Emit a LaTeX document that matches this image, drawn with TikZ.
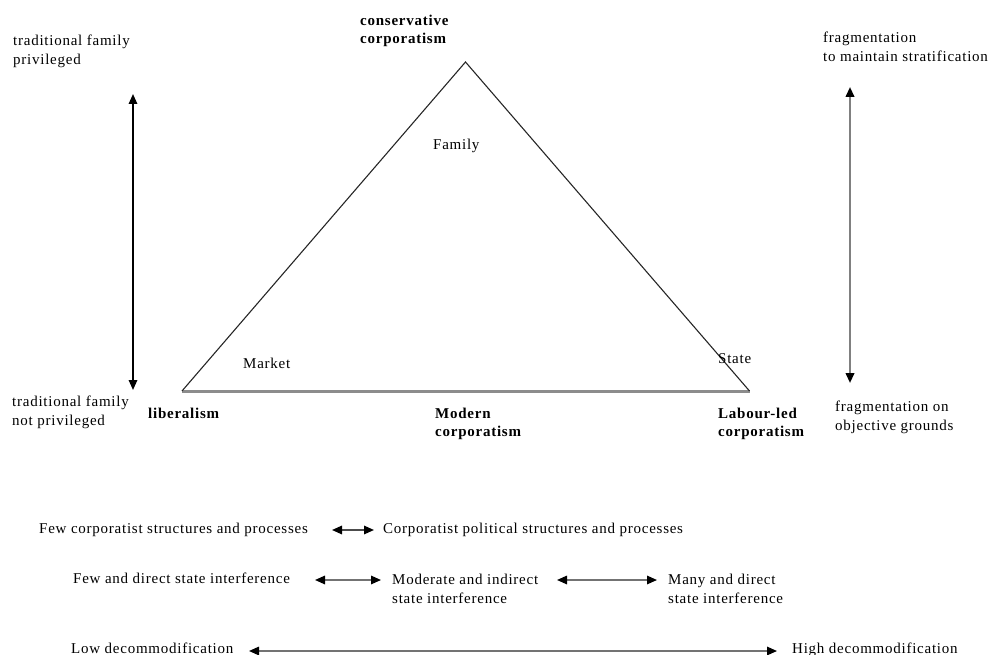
\documentclass[tikz,border=0pt]{standalone}
\usepackage{fontspec}
\setmainfont{Liberation Serif}[LetterSpace=5]
\usetikzlibrary{arrows.meta}

\begin{document}
\begin{tikzpicture}[x=1pt,y=-1pt,
  >={Triangle[length=10pt,width=8.5pt,color=black]},
  lbl/.style={anchor=base west, inner sep=0pt, align=left,
    font=\fontsize{15}{19}\selectfont},
  blbl/.style={lbl, font=\fontsize{15}{18}\selectfont\bfseries},
  scalearrow/.style={<->, line width=1.6pt},
  rowarrow/.style={<->, line width=1.6pt, draw=black!55},
  sideline/.style={draw=black!85, line width=1.1pt},
  bottomline/.style={draw=black!45, line width=3pt}
]
\useasboundingbox (0,0) rectangle (988,655);

% the triangle of welfare regimes
\coordinate (apex) at (465.5,62);
\coordinate (lb) at (182,391);
\coordinate (rb) at (749.5,391);
\draw[bottomline] (lb) -- (rb);
\draw[sideline, line join=miter] (lb) -- (apex) -- (rb);

% labels at the corners and inside (base = last line)
\node[blbl] (cons) at (360,44) {conservative\\corporatism};
\node[lbl] (family) at (433,150) {Family};
\node[lbl] (market) at (243,368) {Market};
\node[lbl] (state) at (718,363) {State};
\node[blbl] (lib) at (148,418) {liberalism};
\node[blbl] (modern) at (435,436) {Modern\\corporatism};
\node[blbl] (labour) at (718,436) {Labour-led\\corporatism};

% left scale: the family
\node[lbl] (famtop) at (13,65) {traditional family\\privileged};
\node[lbl] (fambot) at (12,425) {traditional family\\not privileged};
\coordinate (lt) at (133,94);
\coordinate (lbt) at (133,390);
\draw[scalearrow, draw=black] (lt) -- (lbt);

% right scale: fragmentation
\node[lbl] (fragtop) at (823,62) {fragmentation\\to maintain stratification};
\node[lbl] (fragbot) at (835,430) {fragmentation on\\objective grounds};
\coordinate (rt) at (850,87);
\coordinate (rbt) at (850,383);
\draw[scalearrow, draw=black!50, line width=2.2pt] (rt) -- (rbt);

% row 1: corporatist structures
\node[lbl] (fewcorp) at (39,533) {Few corporatist structures and processes};
\node[lbl] (corp) at (383,533) {Corporatist political structures and processes};
\coordinate (a1l) at (332,530);
\coordinate (a1r) at (374,530);
\draw[rowarrow, draw=black!70] (a1l) -- (a1r);

% row 2: state interference
\node[lbl] (fewstate) at (73,583) {Few and direct state interference};
\node[lbl] (modstate) at (392,603) {Moderate and indirect\\state interference};
\node[lbl] (manystate) at (668,603) {Many and direct\\state interference};
\coordinate (a2l) at (315,580);
\coordinate (a2r) at (381,580);
\coordinate (a3l) at (557,580);
\coordinate (a3r) at (657,580);
\draw[rowarrow] (a2l) -- (a2r);
\draw[rowarrow] (a3l) -- (a3r);

% row 3: decommodification
\node[lbl] (lowdec) at (71,653) {Low decommodification};
\node[lbl] (highdec) at (792,653) {High decommodification};
\coordinate (a4l) at (249,651);
\coordinate (a4r) at (777,651);
\draw[rowarrow] (a4l) -- (a4r);
\end{tikzpicture}
\end{document}
